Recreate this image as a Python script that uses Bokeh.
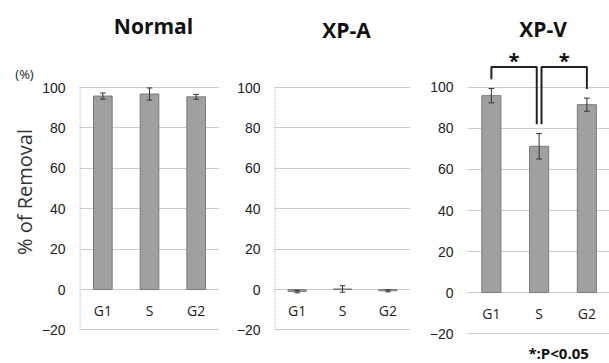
from bokeh.plotting import figure
from bokeh.layouts import row
from bokeh.models import Range1d, FixedTicker, Label
from bokeh.core.properties import value
from bokeh.embed import file_html
from bokeh.resources import INLINE
import math

# ---------------- data ----------------
categories = ["G1", "S", "G2"]
panel_titles = ["Normal", "XP-A", "XP-V"]
normal_mean = [95.8, 96.8, 95.4]
normal_err = [1.5, 3.0, 1.2]
xpa_mean = [-1.0, 0.3, -0.6]
xpa_err = [0.6, 1.6, 0.5]
xpv_mean = [96.0, 71.3, 91.6]
xpv_err = [3.5, 6.2, 3.2]
y_ticks = [-20, 0, 20, 40, 60, 80, 100]
sig_pairs = [("G1", "S"), ("S", "G2")]
sig_mark = "*"
sig_note = "*:P<0.05"
y_unit = "(%)"
y_title = "% of Removal"

FONT = "Open Sans"
BAR_FILL = "#a0a0a0"
BAR_LINE = "#7a7a7a"
GRID = "#9a9a9a"
TEXT = "#222222"
H = 363

xs = list(range(len(categories)))
Y12 = (-36.6, 143.1)
Y3 = (-34.6, 142.4)


def make_panel(title, title_y, means, errs, width, bl, br, x_end, yr, border):
    p = figure(width=width, height=H,
               x_range=Range1d(-0.5, x_end), y_range=Range1d(*yr),
               x_axis_location=None, output_backend="svg", toolbar_location=None,
               min_border_left=bl, min_border_right=br, min_border_top=0, min_border_bottom=0)
    p.outline_line_color = None
    p.xgrid.visible = False
    p.ygrid.ticker = FixedTicker(ticks=y_ticks)
    p.ygrid.grid_line_color = GRID
    p.ygrid.grid_line_dash = "1 1"
    p.ygrid.grid_line_width = 1
    ax = p.yaxis[0]
    ax.ticker = FixedTicker(ticks=y_ticks)
    ax.axis_line_color = None
    ax.major_tick_line_color = None
    ax.minor_tick_line_color = None
    ax.major_tick_out = 0
    ax.major_tick_in = 0
    ax.major_label_standoff = 14
    ax.major_label_text_font = "Liberation Sans"
    ax.major_label_text_font_size = "14px"
    ax.major_label_text_color = TEXT

    if border:
        p.segment(x0=[-0.49], y0=[y_ticks[0]], x1=[-0.49], y1=[y_ticks[-1]],
                  line_color=GRID, line_dash="1 1", line_width=1)

    p.vbar(x=xs, top=means, bottom=0, width=0.4,
           fill_color=BAR_FILL, line_color=BAR_LINE, line_width=1)
    lo = [m - e for m, e in zip(means, errs)]
    hi = [m + e for m, e in zip(means, errs)]
    p.segment(x0=xs, y0=lo, x1=xs, y1=hi, line_color="#333333", line_width=1)
    cw = 0.06
    p.segment(x0=[x - cw for x in xs], y0=hi, x1=[x + cw for x in xs], y1=hi,
              line_color="#333333", line_width=1)
    p.segment(x0=[x - cw for x in xs], y0=lo, x1=[x + cw for x in xs], y1=lo,
              line_color="#333333", line_width=1)

    p.text(x=xs, y=[-10.3] * len(xs), text=categories, text_align="center",
           text_baseline="middle", text_font=value(FONT), text_font_size="14px",
           text_color=TEXT)

    p.add_layout(Label(x=1, y=title_y, x_offset=4, text=title, text_align="center",
                       text_baseline="middle", text_font=FONT, text_font_style="bold",
                       text_font_size="21px", text_color="#111111"))
    return p


# left strip carrying the y-axis title
p0 = figure(width=38, height=H, x_range=Range1d(0, 38), y_range=Range1d(*Y12),
            x_axis_location=None, y_axis_location=None, output_backend="svg",
            toolbar_location=None, min_border_left=0, min_border_right=0,
            min_border_top=0, min_border_bottom=0)
p0.outline_line_color = None
p0.grid.visible = False
p0.text(x=[24], y=[106.9], text=[y_unit], text_align="center", text_baseline="middle",
        text_font=value(FONT), text_font_size="13px", text_color=TEXT)
p0.text(x=[24], y=[48.3], text=[y_title], angle=math.pi / 2, text_align="center",
        text_baseline="middle", text_font=value(FONT), text_font_size="20px",
        text_color="#333333")

p1 = make_panel(panel_titles[0], 130.7, normal_mean, normal_err, 192, 39, 11, 2.5, Y12, True)
p2 = make_panel(panel_titles[1], 128.5, xpa_mean, xpa_err, 190, 44, 10, 2.5, Y12, True)
p3 = make_panel(panel_titles[2], 128.5, xpv_mean, xpv_err, 189, 47, 0, 2.474, Y3, False)

# significance brackets on XP-V
idx = {c: i for i, c in enumerate(categories)}
tops = [m + e for m, e in zip(xpv_mean, xpv_err)]
count = {}
for a, b in sig_pairs:
    count[a] = count.get(a, 0) + 1
    count[b] = count.get(b, 0) + 1
leg_end = {c: tops[idx[c]] + 4.5 for c in count}
bracket_y = max(leg_end.values()) + 6
for a, b in sig_pairs:
    xa = idx[a] + (0.05 if count[a] > 1 else 0)
    xb = idx[b] - (0.05 if count[b] > 1 else 0)
    p3.line(x=[xa, xa, xb, xb], y=[leg_end[a], bracket_y, bracket_y, leg_end[b]],
            line_color="#222222", line_width=2)
    p3.add_layout(Label(x=(xa + xb) / 2, y=bracket_y + 3, text=sig_mark, text_align="center",
                        text_baseline="alphabetic", text_font=FONT, text_font_style="bold",
                        text_font_size="20px", text_color="#111111"))

p3.add_layout(Label(x=xs[-1], y=-29.6, x_offset=2, text=sig_note, text_align="right",
                    text_baseline="middle", text_font=FONT, text_font_style="bold",
                    text_font_size="15px", text_color="#111111"))

layout = row(p0, p1, p2, p3)
open("out.html", "w").write(file_html(layout, INLINE))
